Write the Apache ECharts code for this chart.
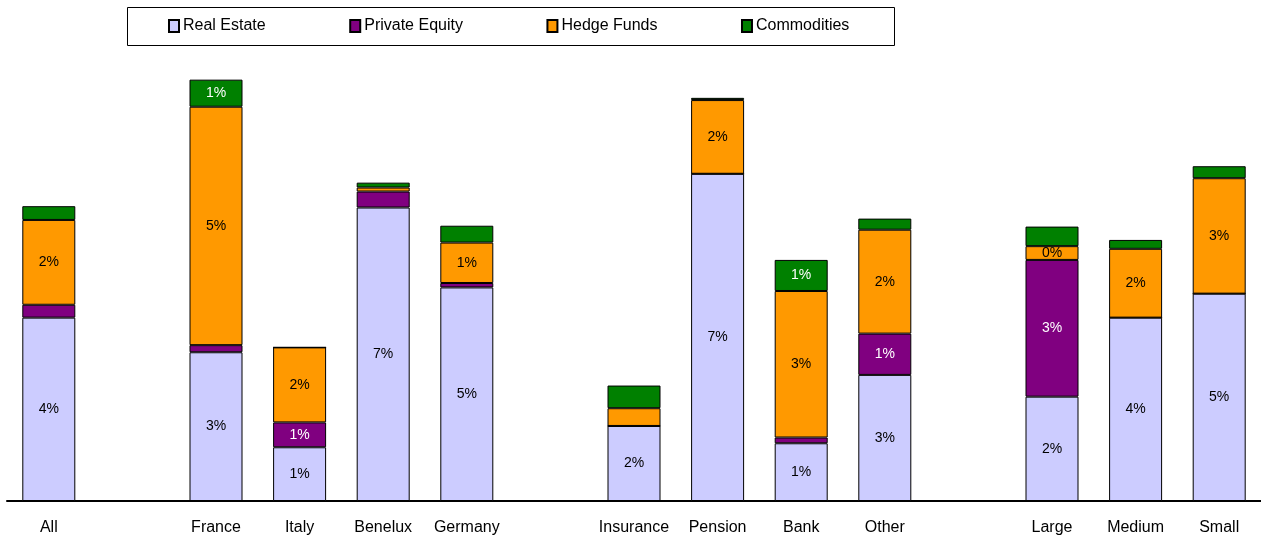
<!DOCTYPE html>
<html>
<head>
<meta charset="utf-8">
<script src="https://cdn.jsdelivr.net/npm/echarts@6/dist/echarts.min.js"></script>
<style>
  html, body { margin: 0; padding: 0; background: #fff; }
  #chart { width: 1261px; height: 536px; }
</style>
</head>
<body>
<div id="chart"></div>
<script>
// '' entries are the empty spacer slots between groups
const categories = ['All', '', 'France', 'Italy', 'Benelux', 'Germany', '', 'Insurance', 'Pension', 'Bank', 'Other', '', 'Large', 'Medium', 'Small']

// share of portfolio, in %
const realEstate     = [4.13, null, 3.35, 1.21, 6.61, 4.81, null, 1.69, 7.37, 1.30, 2.84, null, 2.35, 4.13, 4.67]
const privateEquity  = [0.29, null, 0.16, 0.56, 0.36, 0.10, null, 0,    0,    0.13, 0.93, null, 3.08, 0,    0]
const hedgeFunds     = [1.91, null, 5.37, 1.69, 0.09, 0.91, null, 0.40, 1.66, 3.30, 2.34, null, 0.31, 1.55, 2.60]
const commodities    = [0.31, null, 0.61, 0,    0.11, 0.38, null, 0.51, 0.05, 0.70, 0.25, null, 0.44, 0.20, 0.27]

// which segments carry a value label
const labelRealEstate    = [1, 0, 1, 1, 1, 1, 0, 1, 1, 1, 1, 0, 1, 1, 1]
const labelPrivateEquity = [0, 0, 0, 1, 0, 0, 0, 0, 0, 0, 1, 0, 1, 0, 0]
const labelHedgeFunds    = [1, 0, 1, 1, 0, 1, 0, 0, 1, 1, 1, 0, 1, 1, 1]
const labelCommodities   = [0, 0, 1, 0, 0, 0, 0, 0, 0, 1, 0, 0, 0, 0, 0]

const chart = echarts.init(document.getElementById('chart'))

function makeSeries(name, values, flags, color, textColor) {
  return {
    name,
    type: 'bar',
    stack: 'total',
    barWidth: 53,
    itemStyle: { color, borderColor: '#000', borderWidth: 1 },
    data: values.map((v, i) => ({
      value: v == null ? '-' : v,
      label: {
        show: !!flags[i],
        position: 'inside',
        color: textColor,
        fontSize: 14,
        fontFamily: 'Liberation Sans, Arial, sans-serif',
        formatter: p => Math.round(p.value) + '%',
      },
    })),
  }
}

const option = {
  animation: false,
  backgroundColor: '#fff',
  textStyle: { fontFamily: 'Liberation Sans, Arial, sans-serif' },
  graphic: [
    {
      type: 'rect',
      shape: { x: 127.5, y: 7.5, width: 767, height: 38 },
      style: { fill: '#fff', stroke: '#000', lineWidth: 1 },
      z: -1,
    },
  ],
  legend: {
    left: 163,
    top: 13,
    icon: 'rect',
    itemWidth: 10,
    itemHeight: 12,
    itemGap: 83.5,
    textStyle: { fontSize: 16, color: '#000', padding: [0, 0, 0, -1] },
    data: ['Real Estate', 'Private Equity', 'Hedge Funds', 'Commodities'],
  },
  grid: { left: 7, right: 0, top: 57, bottom: 34, containLabel: false },
  xAxis: {
    type: 'category',
    data: categories,
    axisTick: { show: false },
    axisLine: { lineStyle: { color: '#000', width: 2 } },
    axisLabel: { color: '#000', fontSize: 16, margin: 19, interval: 0 },
  },
  yAxis: {
    type: 'value',
    min: 0,
    max: 10,
    show: false,
    splitLine: { show: false },
  },
  series: [
    makeSeries('Real Estate', realEstate, labelRealEstate, '#CCCCFF', '#000'),
    makeSeries('Private Equity', privateEquity, labelPrivateEquity, '#800080', '#fff'),
    makeSeries('Hedge Funds', hedgeFunds, labelHedgeFunds, '#FF9900', '#000'),
    makeSeries('Commodities', commodities, labelCommodities, '#008000', '#fff'),
  ],
}

chart.setOption(option)
</script>
</body>
</html>
